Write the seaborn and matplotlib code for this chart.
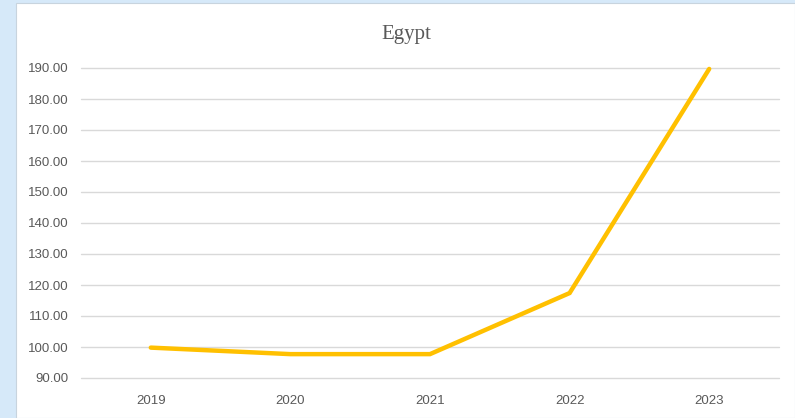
import matplotlib
matplotlib.use("Agg")
import matplotlib.pyplot as plt
import seaborn as sns
import pandas as pd
from matplotlib.patches import Rectangle
from matplotlib.ticker import FormatStrFormatter

years = ["2019", "2020", "2021", "2022", "2023"]
values = [99.8, 97.7, 97.7, 117.4, 189.7]
title = "Egypt"

df = pd.DataFrame({"year": years, "value": values})

sns.set_theme(style="white")
plt.rcParams['font.family'] = ['Liberation Sans', 'DejaVu Sans']

fig = plt.figure(figsize=(7.95, 4.18), dpi=100)
fig.patch.set_facecolor("#D6E9F9")
fig.patches.append(Rectangle((16/795, 0), 1 - 16/795, 1 - 3/418, transform=fig.transFigure,
                             facecolor="white", edgecolor="#C8D4DE", linewidth=0.8, zorder=-5))

ax = fig.add_axes([81/795, 1 - 378/418, (779 - 81)/795, (378 - 68)/418])
ax.set_zorder(2)
ax.set_facecolor("none")
sns.lineplot(data=df, x="year", y="value", ax=ax, color="#FFC000", linewidth=3.2,
             sort=False, solid_capstyle="round", solid_joinstyle="miter")
for ln in ax.get_lines():
    ln.set_clip_on(False)

ax.set_xlim(-0.5, 4.5)
ax.set_ylim(90, 190)
ax.set_yticks(range(90, 191, 10))
ax.yaxis.set_major_formatter(FormatStrFormatter("%.2f"))
ax.grid(axis="y", color="#D9D9D9", linewidth=1)
ax.grid(axis="x", visible=False)
ax.set_axisbelow(True)
for gl in ax.get_ygridlines():
    gl.set_clip_on(False)
for s in ax.spines.values():
    s.set_visible(False)
ax.tick_params(axis="both", length=0, labelsize=9.5, labelcolor="#595959")
ax.tick_params(axis="y", pad=9)
ax.tick_params(axis="x", pad=12)
ax.set_xlabel("")
ax.set_ylabel("")

fig.text(406/795, 1 - 34/418, title, ha="center", va="center", fontsize=15,
         color="#595959", family=["Liberation Serif", "DejaVu Serif"])

fig.savefig("out.png", dpi=100)
